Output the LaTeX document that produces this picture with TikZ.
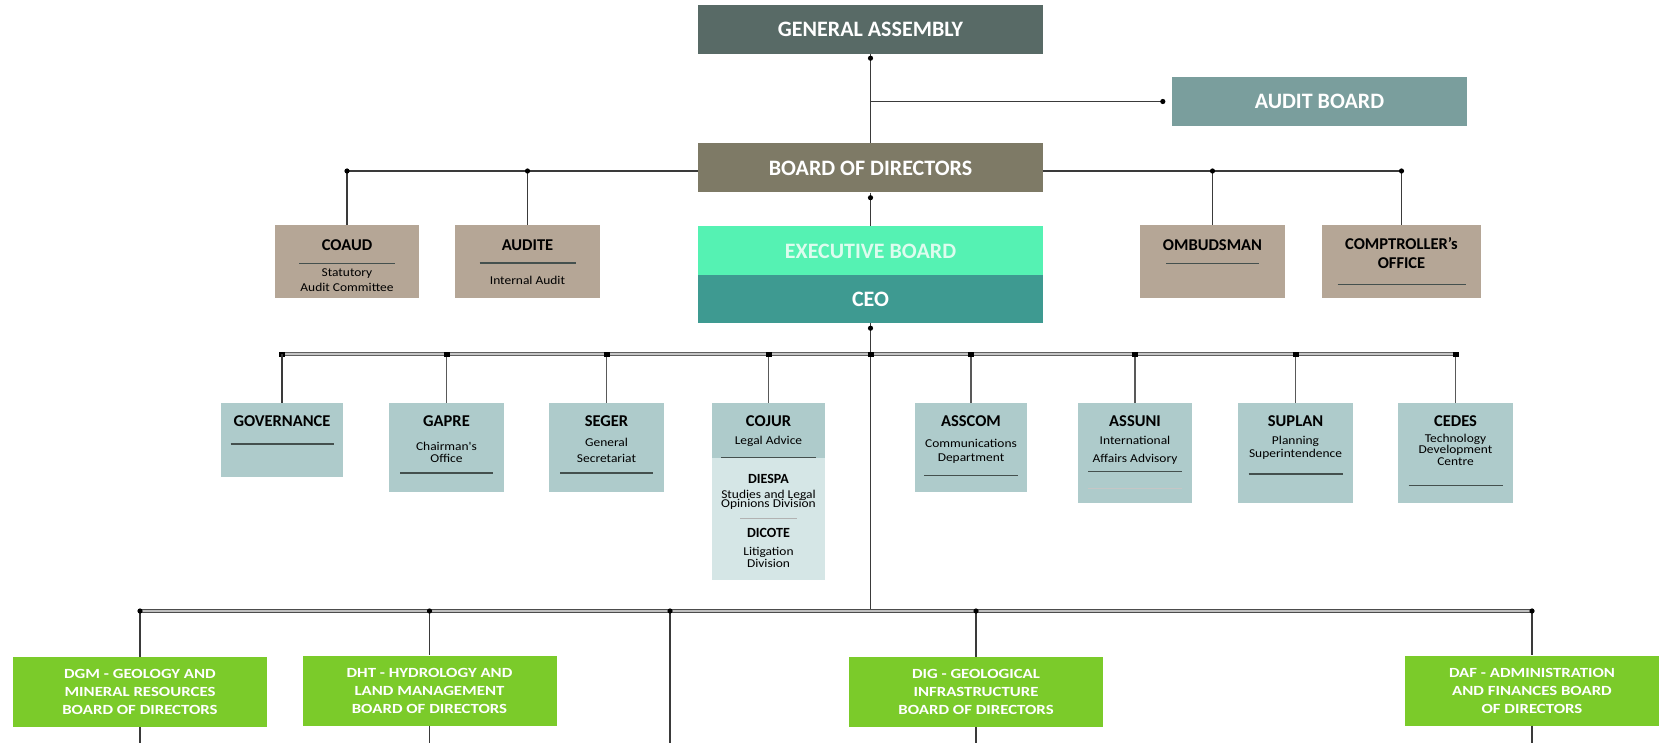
\documentclass[tikz,border=0pt]{standalone}
\usepackage{fontspec}
\setmainfont{Carlito}
\newfontfamily\widefont[FakeStretch=1.12]{Carlito}
\newfontfamily\greenfam[FakeStretch=1.2]{Carlito}
\usepackage{tikz}
\usetikzlibrary{positioning}

\definecolor{gafill}{HTML}{586A66}
\definecolor{abfill}{HTML}{7A9E9D}
\definecolor{bodfill}{HTML}{7E7A66}
\definecolor{ebfill}{HTML}{55F2B3}
\definecolor{ebtext}{HTML}{DDFCEE}
\definecolor{ceofill}{HTML}{3E9A91}
\definecolor{tanfill}{HTML}{B5A696}
\definecolor{bluefill}{HTML}{AECBCB}
\definecolor{palefill}{HTML}{D5E6E6}
\definecolor{greenfill}{HTML}{7BCB2A}
\definecolor{rulegray}{HTML}{44504E}
\definecolor{linegray}{HTML}{3A3A3A}

\newcommand{\topfont}{\fontsize{22}{24}\selectfont\bfseries}
\newcommand{\ttlfont}{\normalfont\fontsize{16.5}{18}\selectfont\bfseries}
\newcommand{\subttl}{\normalfont\fontsize{14}{16}\selectfont\bfseries}
\newcommand{\subfont}{\widefont\fontsize{12}{12}\selectfont}
\newcommand{\greenfont}{\greenfam\fontsize{14}{18}\selectfont\bfseries}
\newcommand{\sepline}[1]{\textcolor{rulegray}{\rule{#1}{1.3pt}}}

\begin{document}
\begin{tikzpicture}[
    x=1pt, y=-1pt,
    topbox/.style={inner sep=0pt, text=white, font=\topfont,
                   minimum width=345, minimum height=49},
    tanbox/.style={fill=tanfill, inner sep=0pt},
    bluebox/.style={fill=bluefill, inner sep=0pt},
    greenbox/.style={fill=greenfill, text=white, font=\greenfont, align=center,
                     inner sep=0pt, minimum width=254, minimum height=70},
    boxtext/.style={align=center, inner sep=0pt, font=\subfont},
    link/.style={draw=linegray, line width=1.3pt},
    drop/.style={draw=gray!70!black, line width=1.3pt},
    midbar/.style={draw=gray!75!black, double=gray!45, double distance=1.6pt, line width=0.9pt},
    lowbar/.style={draw=gray!60!black, double=gray!50, double distance=1.4pt, line width=0.9pt}
  ]
  \fill[white] (0,0) rectangle (1662,743);
  \useasboundingbox (0,0) rectangle (1662,743);

  % Top column
  \node[topbox, fill=gafill] (ga) at (870.5,29.5) {GENERAL ASSEMBLY};
  \node[topbox, fill=abfill, minimum width=295] (ab) at (1319.5,101.5) {AUDIT BOARD};
  \node[topbox, fill=bodfill] (bod) at (870.5,168) {BOARD OF DIRECTORS};
  \node[topbox, fill=ebfill, text=ebtext] (eb) at (870.5,251) {EXECUTIVE BOARD};
  \node[topbox, fill=ceofill, minimum height=48] (ceo) at (870.5,299) {CEO};

  % Boxes beside the board
  \node[tanbox, minimum width=144, minimum height=73] (coaud) at (347,261.5) {};
  \node[boxtext, below=14.5pt of coaud.north] (coaud-txt)
    {{\ttlfont COAUD}\\[1.5pt]\sepline{96pt}\\[1pt]Statutory\\[3pt]Audit Committee};
  \node[tanbox, minimum width=145, minimum height=73] (audite) at (527.5,261.5) {};
  \node[boxtext, below=14.5pt of audite.north] (audite-txt)
    {{\ttlfont AUDITE}\\[1.5pt]\sepline{96pt}\\[9pt]Internal Audit};
  \node[tanbox, minimum width=145, minimum height=73] (ombud) at (1212.5,261.5) {};
  \node[boxtext, below=14.5pt of ombud.north] (ombud-txt)
    {{\ttlfont OMBUDSMAN}\\[1.5pt]\sepline{93pt}};
  \node[tanbox, minimum width=159, minimum height=73] (comp) at (1401.5,261.5) {};
  \node[boxtext, below=12.5pt of comp.north] (comp-txt)
    {{\ttlfont COMPTROLLER's}\\[7pt]{\ttlfont OFFICE}\\[4.3pt]\sepline{128pt}};

  % Advisory units under the CEO
  \node[bluebox, minimum width=122, minimum height=74] (gov) at (282,440) {};
  \node[boxtext, below=13pt of gov.north] (gov-txt)
    {{\ttlfont GOVERNANCE}\\[5.8pt]\sepline{103pt}};
  \node[bluebox, minimum width=115, minimum height=89] (gapre) at (446.5,447.5) {};
  \node[boxtext, below=13pt of gapre.north] (gapre-txt)
    {{\ttlfont GAPRE}\\[12pt]Chairman's\\[-0.7pt]Office\\[-0.4pt]\sepline{93pt}};
  \node[bluebox, minimum width=115, minimum height=89] (seger) at (606.5,447.5) {};
  \node[boxtext, below=13pt of seger.north] (seger-txt)
    {{\ttlfont SEGER}\\[7.2pt]General\\[4pt]Secretariat\\[-0.4pt]\sepline{93pt}};
  \node[bluebox, minimum width=113, minimum height=55] (cojur) at (768.5,430.5) {};
  \node[boxtext, below=13pt of cojur.north] (cojur-txt)
    {{\ttlfont COJUR}\\[5.7pt]Legal Advice\\[1.3pt]\sepline{95pt}};
  \node[fill=palefill, inner sep=0pt, minimum width=113, minimum height=122,
        below=0pt of cojur.south] (cojurdiv) {};
  \node[boxtext, below=15.5pt of cojurdiv.north] (cojurdiv-txt)
    {{\subttl DIESPA}\\[3pt]Studies and Legal\\[-3pt]Opinions Division\\[0pt]
     \textcolor{gray!60}{\rule{57pt}{0.8pt}}\\[6pt]{\subttl DICOTE}\\[6pt]Litigation\\[0.5pt]Division};
  \node[bluebox, minimum width=112, minimum height=89] (asscom) at (971,447.5) {};
  \node[boxtext, below=13pt of asscom.north] (asscom-txt)
    {{\ttlfont ASSCOM}\\[8.5pt]Communications\\[2pt]Department\\[3pt]\sepline{94pt}};
  \node[bluebox, minimum width=114, minimum height=100] (assuni) at (1135,453) {};
  \node[boxtext, below=13pt of assuni.north] (assuni-txt)
    {{\ttlfont ASSUNI}\\[5.5pt]International\\[6pt]Affairs Advisory\\[-2pt]\sepline{94pt}\\[4pt]
     \textcolor{gray!45}{\rule{94pt}{0.8pt}}};
  \node[bluebox, minimum width=115, minimum height=100] (suplan) at (1295.5,453) {};
  \node[boxtext, below=13pt of suplan.north] (suplan-txt)
    {{\ttlfont SUPLAN}\\[5.5pt]Planning\\[0.7pt]Superintendence\\[5.6pt]\sepline{94pt}};
  \node[bluebox, minimum width=115, minimum height=100] (cedes) at (1455.5,453) {};
  \node[boxtext, below=13pt of cedes.north] (cedes-txt)
    {{\ttlfont CEDES}\\[3.5pt]Technology\\[-1pt]Development\\[0pt]Centre\\[8.6pt]\sepline{94pt}};

  % Boards of directors
  \node[greenbox] (dgm) at (140,692)
    {DGM - GEOLOGY AND\\MINERAL RESOURCES\\BOARD OF DIRECTORS};
  \node[greenbox] (dht) at (429.5,690.5)
    {DHT - HYDROLOGY AND\\LAND MANAGEMENT\\BOARD OF DIRECTORS};
  \node[greenbox] (dig) at (976,692)
    {DIG - GEOLOGICAL\\INFRASTRUCTURE\\BOARD OF DIRECTORS};
  \node[greenbox] (daf) at (1532,690.5)
    {DAF - ADMINISTRATION\\AND FINANCES BOARD\\OF DIRECTORS};

  % Junction points
  \coordinate (abj) at (ga.south |- ab.west);
  \coordinate (abend) at ([xshift=-9pt]ab.west);
  \coordinate (bodl) at ([yshift=-3pt]bod.west);
  \coordinate (bodr) at ([yshift=-3pt]bod.east);
  \coordinate (midj) at (ceo.south |- 0,354);
  \coordinate (lowj) at (ceo.south |- 0,611);
  \coordinate (lowc) at (670,611);
  \coordinate (lowc-end) at (670,743);

  % Upper links
  \draw[link] (ga.south) -- (bod.north);
  \draw[link] (abj) -- (abend);
  \draw[link] (bodl) -| (coaud.north);
  \draw[link] (audite.north) -- (audite.north |- bodl);
  \draw[link] (bodr) -| (comp.north);
  \draw[link] (ombud.north) -- (ombud.north |- bodr);
  \draw[link] (bod.south) -- (eb.north);

  % Middle bar
  \draw[midbar] (gov.north |- midj) -- (cedes.north |- midj);
  \foreach \n in {gov,gapre,seger,cojur,asscom,assuni,suplan,cedes} {
    \draw[drop] (\n.north) -- (\n.north |- midj);
    \fill[black] (\n.north |- midj) ++(-3,-2.5) rectangle ++(6,5);
  }
  \draw[link] (gov.north) -- (gov.north |- midj);
  \draw[link] (ceo.south) -- (lowj);
  \fill[black] (midj) ++(-3,-2.5) rectangle ++(6,5);

  % Lower bar
  \draw[lowbar] (dgm.north |- lowj) -- (daf.north |- lowj);
  \foreach \n in {dgm,dht,dig,daf} {
    \draw[link] (\n.north |- lowj) -- (\n.north);
    \draw[link] (\n.south) -- (\n.south |- lowc-end);
    \fill[black] (\n.north |- lowj) circle (2.6pt);
  }
  \draw[link] (lowc) -- (lowc-end);

  % Dots
  \foreach \c in {lowc, abend} \fill[black] (\c) circle (2.6pt);
  \fill[black] ([yshift=-4pt]ga.south) circle (2.6pt);
  \fill[black] ([yshift=-5pt]bod.south) circle (2.6pt);
  \fill[black] ([yshift=-5pt]ceo.south) circle (2.6pt);
  \foreach \n in {coaud,audite} \fill[black] (\n.north |- bodl) circle (2.6pt);
  \foreach \n in {ombud,comp} \fill[black] (\n.north |- bodr) circle (2.6pt);

\end{tikzpicture}
\end{document}
